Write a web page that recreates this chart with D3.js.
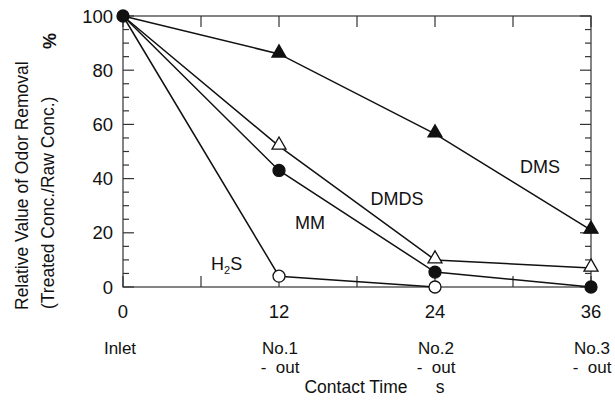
<!DOCTYPE html>
<html>
<head>
<meta charset="utf-8">
<script src="https://cdn.jsdelivr.net/npm/d3@7"></script>
<style>
  body { margin: 0; background: #fff; }
  text { font-family: "Liberation Sans", Arial, sans-serif; fill: #111; }
</style>
</head>
<body>
<svg id="chart" width="615" height="403"></svg>
<script>
// contact time (s) at each sampling point
const times = [0, 12, 24, 36];
const stageNames = [["Inlet"], ["No.1", "-  out"], ["No.2", "-  out"], ["No.3", "-  out"]];
const yTicks = [0, 20, 40, 60, 80, 100];

// relative odor removal (%)
const dms = [100, 86, 56.5, 21];
const dmds = [100, 52, 10, 7];
const mm = [100, 43, 5.5, 0];
const h2s = [100, 4, 0];

const svg = d3.select("#chart");

const plot = { left: 123, right: 591, top: 16, bottom: 287 };
const x = d3.scaleLinear().domain([0, 36]).range([plot.left, plot.right]);
const y = d3.scaleLinear().domain([0, 100]).range([plot.bottom, plot.top]);

const axisColor = "#333";

// frame
svg.append("rect")
    .attr("x", plot.left)
    .attr("y", plot.top)
    .attr("width", plot.right - plot.left)
    .attr("height", plot.bottom - plot.top)
    .attr("fill", "none")
    .attr("stroke", axisColor)
    .attr("stroke-width", 1.2);

// inward ticks on all four sides
const minorY = d3.range(0, 101, 5);
const xTickVals = d3.range(0, 37, 6);

const ticks = svg.append("g").attr("stroke", axisColor).attr("stroke-width", 1.2);
minorY.forEach(v => {
    const len = v % 20 === 0 ? 11 : 6;
    ticks.append("line").attr("x1", plot.left).attr("x2", plot.left + len)
        .attr("y1", y(v)).attr("y2", y(v));
    ticks.append("line").attr("x1", plot.right).attr("x2", plot.right - len)
        .attr("y1", y(v)).attr("y2", y(v));
});
xTickVals.forEach(v => {
    ticks.append("line").attr("x1", x(v)).attr("x2", x(v))
        .attr("y1", plot.top).attr("y2", plot.top + 11);
    ticks.append("line").attr("x1", x(v)).attr("x2", x(v))
        .attr("y1", plot.bottom).attr("y2", plot.bottom - 11);
});

// y tick labels
svg.append("g").selectAll("text")
    .data(yTicks)
    .join("text")
    .attr("x", plot.left - 10)
    .attr("y", d => y(d) + 6.5)
    .attr("text-anchor", "end")
    .style("font-size", "18.5px")
    .text(d => d);

// x tick labels
svg.append("g").selectAll("text")
    .data(times)
    .join("text")
    .attr("x", d => x(d))
    .attr("y", 318)
    .attr("text-anchor", "middle")
    .style("font-size", "18.5px")
    .text(d => d);

// stage names under the ticks
times.forEach((t, i) => {
    stageNames[i].forEach((s, j) => {
        svg.append("text")
            .attr("x", x(t) + (i === 0 ? -3 : 1))
            .attr("y", 354 + j * 19)
            .attr("text-anchor", "middle")
            .style("font-size", "17px")
            .style("white-space", "pre")
            .text(s);
    });
});

svg.append("text")
    .attr("x", 356)
    .attr("y", 393)
    .attr("text-anchor", "middle")
    .style("font-size", "17.5px")
    .text("Contact Time");
svg.append("text")
    .attr("x", 440)
    .attr("y", 393)
    .attr("text-anchor", "middle")
    .style("font-size", "17.5px")
    .text("s");

// y axis title
svg.append("text")
    .attr("transform", "translate(28,310) rotate(-90)")
    .style("font-size", "17.5px")
    .text("Relative Value of Odor Removal");
svg.append("text")
    .attr("transform", "translate(54,309) rotate(-90)")
    .style("font-size", "17.5px")
    .text("(Treated Conc./Raw Conc.)");
svg.append("text")
    .attr("transform", "translate(56,49) rotate(-90)")
    .style("font-size", "18px")
    .style("font-weight", "bold")
    .text("%");

// series lines
const line = d3.line().x((d, i) => x(times[i])).y(d => y(d));
[dms, dmds, mm, h2s].forEach(s => {
    svg.append("path")
        .attr("d", line(s))
        .attr("fill", "none")
        .attr("stroke", "#111")
        .attr("stroke-width", 1.5);
});

// markers (the inlet point is a single filled circle shared by all series)
const tri = d3.symbol().type(d3.symbolTriangle).size(85);
function triangles(s, fill) {
    svg.append("g").selectAll("path")
        .data(s.slice(1))
        .join("path")
        .attr("transform", (d, i) => `translate(${x(times[i + 1])},${y(d) - 1})`)
        .attr("d", tri)
        .attr("fill", fill)
        .attr("stroke", "#111")
        .attr("stroke-width", 1.3);
}
function circles(s, fill, skipFirst) {
    const pts = s.map((v, i) => [times[i], v]).slice(skipFirst ? 1 : 0);
    svg.append("g").selectAll("circle")
        .data(pts)
        .join("circle")
        .attr("cx", d => x(d[0]))
        .attr("cy", d => y(d[1]))
        .attr("r", 6)
        .attr("fill", fill)
        .attr("stroke", "#111")
        .attr("stroke-width", 1.3);
}
triangles(dms, "#111");
triangles(dmds, "#fff");
circles(h2s, "#fff", true);
circles(mm, "#111", false);

// series labels
const labels = [
    { text: "DMS", x: 540, y: 173 },
    { text: "DMDS", x: 397, y: 205 },
    { text: "MM", x: 310, y: 229 }
];
labels.forEach(l => {
    svg.append("text")
        .attr("x", l.x)
        .attr("y", l.y)
        .attr("text-anchor", "middle")
        .style("font-size", "18px")
        .text(l.text);
});
const h2sLabel = svg.append("text")
    .attr("x", 211)
    .attr("y", 270)
    .style("font-size", "18px");
h2sLabel.append("tspan").text("H");
h2sLabel.append("tspan").attr("dy", 4).style("font-size", "11px").text("2");
h2sLabel.append("tspan").attr("dy", -4).text("S");
</script>
</body>
</html>
